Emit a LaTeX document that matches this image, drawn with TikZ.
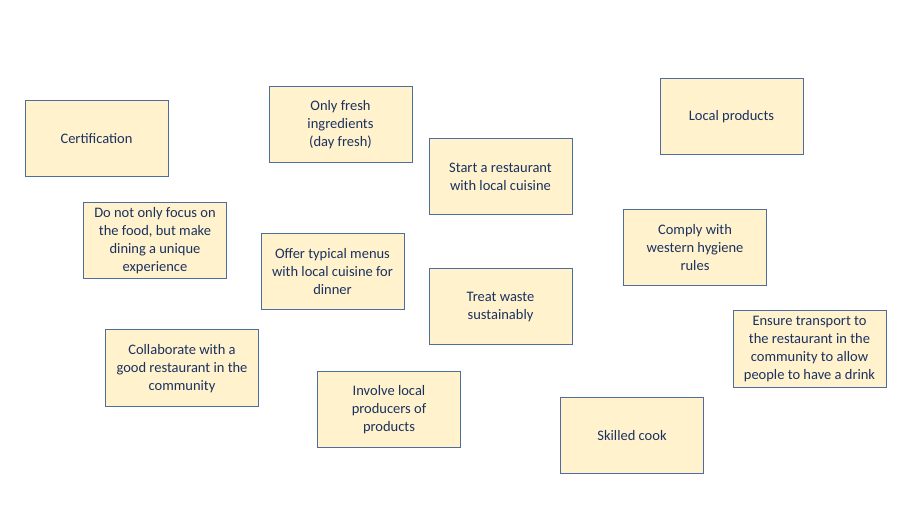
\documentclass[tikz,border=0pt]{standalone}
\usepackage{fontspec}
\setmainfont{Carlito}
\begin{document}
\begin{tikzpicture}[x=1pt,y=-1pt,
  note/.style={draw=boxline, fill=boxfill, line width=1pt, minimum width=143pt, minimum height=76pt,
    inner sep=0pt, align=center, text=textnavy, font=\fontsize{14.5}{18}\selectfont},
  wide/.style={minimum width=153pt, minimum height=77pt}]
\definecolor{boxfill}{HTML}{FFF2CC}
\definecolor{boxline}{HTML}{4F6D9C}
\definecolor{textnavy}{HTML}{1B3260}
\useasboundingbox (0,0) rectangle (906,510);
\node[note] (cert) at (96.5,139) {Certification};
\node[note] (fresh) at (340.5,125) {Only fresh\\ingredients\\(day fresh)};
\node[note] (start) at (500.5,177) {Start a restaurant\\with local cuisine};
\node[note] (local) at (731.5,117) {Local products};
\node[note] (dining) at (155,241) {Do not only focus on\\the food, but make\\dining a unique\\experience};
\node[note] (menus) at (332.5,272) {Offer typical menus\\with local cuisine for\\dinner};
\node[note] (hygiene) at (695,247.5) {Comply with\\western hygiene\\rules};
\node[note] (waste) at (500.5,307) {Treat waste\\sustainably};
\node[note,wide] (transport) at (809.5,349.5) {Ensure transport to\\the restaurant in the\\community to allow\\people to have a drink};
\node[note,wide] (collab) at (182,368.5) {Collaborate with a\\good restaurant in the\\community};
\node[note] (producers) at (389,410) {Involve local\\producers of\\products};
\node[note] (cook) at (632,436) {Skilled cook};
\end{tikzpicture}
\end{document}
